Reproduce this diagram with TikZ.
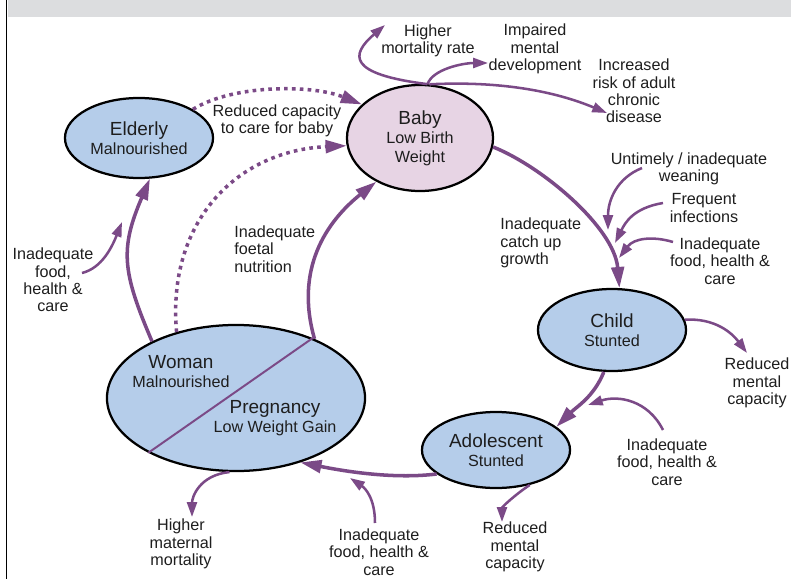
\documentclass[tikz,border=0pt]{standalone}
\usepackage{fontspec}
\setmainfont{Liberation Sans}
\usetikzlibrary{arrows.meta, shapes.geometric}
\definecolor{lineviolet}{RGB}{123,74,135}
\definecolor{stageblue}{RGB}{181,205,234}
\definecolor{babypink}{RGB}{231,212,228}
\definecolor{bandgrey}{RGB}{220,221,223}
\definecolor{textgrey}{RGB}{30,30,30}
\newcommand\Stage[1]{{\fontsize{13.5}{15}\selectfont #1}}

\begin{document}
\begin{tikzpicture}[x=0.025cm, y=-0.025cm,
stage/.style={
  ellipse, draw=black, line width=1.6pt,
  fill=stageblue, inner sep=0pt,
  align=center, text=textgrey,
  font=\fontsize{11.5}{13.5}\selectfont
},
stagetext/.style={align=center, inner sep=0pt, text=textgrey, font=\fontsize{11.5}{13.5}\selectfont},
note/.style={align=center, inner sep=0pt, text=textgrey, font=\fontsize{11.5}{12.4}\selectfont},
cause/.style={draw=lineviolet, line width=2.5pt, -{Triangle[length=15pt, width=9pt]}},
effect/.style={draw=lineviolet, line width=1.8pt, -{Triangle[length=10.5pt, width=7pt]}},
weak/.style={cause, dash pattern=on 2.6pt off 3pt}]

\useasboundingbox (0,0) rectangle (791,579);
\fill[bandgrey] (8,0) rectangle (791,16.5);
\draw[black, line width=1.4pt] (6.5,0) -- (6.5,579);

\node (elderly) [stage, minimum width=3.7cm, minimum height=2cm] at (139,138) {\Stage{Elderly}\\Malnourished};
\node (baby) [stage, fill=babypink, minimum width=3.65cm, minimum height=2.65cm] at (420,138) {\Stage{Baby}\\Low Birth\\Weight};
\node (child) [stage, minimum width=3.7cm, minimum height=2.05cm] at (612,330) {\Stage{Child}\\Stunted};
\node (adolescent) [stage, minimum width=3.7cm, minimum height=1.9cm] at (496,450) {\Stage{Adolescent}\\Stunted};
\node (woman) [stage, minimum width=6.45cm, minimum height=3.65cm] at (236,398) {};
\draw[lineviolet, line width=1.4pt] (woman.212) -- (woman.38);
\node (womanname) [stagetext] at (181,372) {\Stage{Woman}\\Malnourished};
\node (pregnancy) [stagetext] at (275,418) {\Stage{Pregnancy}\\Low Weight Gain};

\node (hmr) [note] at (428,41) {Higher\\mortality rate};
\node (imd) [note] at (535,49) {Impaired\\mental\\development};
\node (irc) [note] at (634,91) {Increased\\risk of adult\\chronic\\disease};
\node (rcc) [note] at (277,121) {Reduced capacity\\to care for baby};
\node (ifn) [note, align=left, anchor=west] at (234,249) {Inadequate\\foetal\\nutrition};
\node (ifl) [note] at (53,280) {Inadequate\\food,\\health \&\\care};
\node (icg) [note, align=left, anchor=west] at (500,243) {Inadequate\\catch up\\growth};
\node (uiw) [note] at (689,169) {Untimely / inadequate\\weaning};
\node (fin) [note] at (704,208) {Frequent\\infections};
\node (ifc) [note] at (720,261) {Inadequate\\food, health \&\\care};
\node (rmc) [note] at (757,383) {Reduced\\mental\\capacity};
\node (ifa) [note] at (667,462) {Inadequate\\food, health \&\\care};
\node (hmm) [note] at (181,544) {Higher\\maternal\\mortality};
\node (ifb) [note] at (379,552) {Inadequate\\food, health \&\\care};
\node (rmb) [note] at (515,547) {Reduced\\mental\\capacity};

\coordinate (hmrtip) at (385,25);
\coordinate (imdtip) at (488,63);
\coordinate (irctip) at (607,113);
\coordinate (weanfrom) at (642,168);
\coordinate (weanto) at (608,230);
\coordinate (infecfrom) at (663,203);
\coordinate (infecto) at (615,243);
\coordinate (foodcfrom) at (673,242);
\coordinate (foodcto) at (619,258);
\coordinate (rmctip) at (747,353);
\coordinate (foodafrom) at (663,430);
\coordinate (foodato) at (588,405);
\coordinate (foodbfrom) at (375,523);
\coordinate (foodbto) at (350,478);
\coordinate (hmmtip) at (192,517);
\coordinate (rmbtip) at (502,522);
\coordinate (foodefrom) at (82,273);
\coordinate (foodeto) at (122,222);

\draw[cause] (woman.146) .. controls +(-30,-70) and +(-30,70) .. (elderly.-75);
\draw[effect] (foodefrom) .. controls +(20,-5) and +(-10,25) .. (foodeto);
\draw[weak] (woman.132) .. controls +(-10,-110) and +(-110,5) .. (baby.186);
\draw[weak] (elderly.28) .. controls +(40,-25) and +(-50,-20) .. (baby.150);
\draw[cause] (woman.37) .. controls +(-20,-70) and +(-50,40) .. (baby.225);
\draw[cause] (baby.-7) .. controls +(50,20) and +(-5,-60) .. (child.80);
\draw[effect] (weanfrom) .. controls +(-25,10) and +(0,-30) .. (weanto);
\draw[effect] (infecfrom) .. controls +(-30,5) and +(10,-20) .. (infecto);
\draw[effect] (foodcfrom) .. controls +(-20,-6) and +(15,-20) .. (foodcto);
\draw[effect] (child.8) .. controls +(30,-2) and +(-15,-20) .. (rmctip);
\draw[cause] (child.259) .. controls +(-10,25) and +(20,-20) .. (adolescent.21);
\draw[effect] (foodafrom) .. controls +(-15,-30) and +(30,-10) .. (foodato);
\draw[cause] (adolescent.202) .. controls +(-40,5) and +(50,10) .. (woman.-45);
\draw[effect] (foodbfrom) .. controls +(0,-25) and +(15,10) .. (foodbto);
\draw[effect] (woman.265) .. controls +(-30,3) and +(0,-20) .. (hmmtip);
\draw[effect] (adolescent.-46) .. controls +(-15,10) and +(0,-15) .. (rmbtip);
\draw[effect] (baby.82) .. controls +(-80,-10) and +(-35,30) .. (hmrtip);
\draw[effect] (baby.82) .. controls +(5,-15) and +(-25,0) .. (imdtip);
\draw[effect] (baby.80) .. controls +(60,-3) and +(-60,-25) .. (irctip);
\end{tikzpicture}
\end{document}
